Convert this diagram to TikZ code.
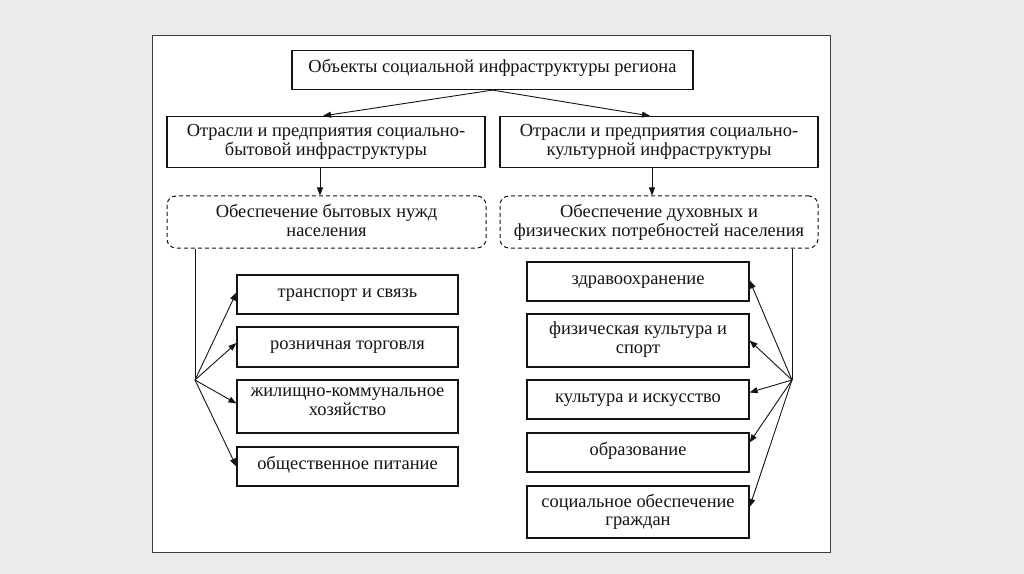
\documentclass[tikz,border=0pt]{standalone}
\usepackage{fontspec}
\setmainfont{Liberation Serif}
\usetikzlibrary{arrows.meta}
\definecolor{bggray}{RGB}{235,235,235}
\definecolor{framegray}{RGB}{60,60,60}
\definecolor{inkc}{RGB}{20,20,20}
\tikzset{
  txt/.style={anchor=north, yshift=-8.5bp, inner sep=0pt, align=center, text=inkc,
    font=\fontsize{18.5}{18.7}\selectfont,
    execute at begin node={\rule{0pt}{14bp}}},
  t/.style={label={[txt]north:{#1}}},
  box/.style={draw=inkc, line width=1.2bp, inner sep=0pt},
  dbox/.style={box, dashed, dash pattern=on 4bp off 3bp, rounded corners=9bp, line width=1bp},
  arr/.style={draw=inkc, line width=0.9bp, -{Triangle[length=8bp,width=6bp]}},
  ln/.style={draw=inkc, line width=0.9bp}
}
\begin{document}
\begin{tikzpicture}[x=1bp,y=-1bp]
\useasboundingbox[fill=bggray] (0,0) rectangle (1024,574);
\draw[framegray, fill=white, line width=1bp] (152,36) rectangle (830,552);

\node[box, minimum width=401bp, minimum height=39bp,
  t={Объекты социальной инфраструктуры региона}] (top) at (492.5,70) {};
\node[box, minimum width=318bp, minimum height=51bp,
  t={Отрасли и предприятия социально-\\бытовой инфраструктуры}] (lb) at (326,142) {};
\node[box, minimum width=318bp, minimum height=51bp,
  t={Отрасли и предприятия социально-\\культурной инфраструктуры}] (rb) at (659,142) {};
\node[dbox, minimum width=319bp, minimum height=52bp,
  t={Обеспечение бытовых нужд\\населения}] (dl) at (326.5,222) {};
\node[dbox, minimum width=318bp, minimum height=52bp,
  t={Обеспечение духовных и\\физических потребностей населения}] (dr) at (659,222) {};

% left list
\node[box, minimum width=221bp, minimum height=39bp, t={транспорт и связь}] (l1) at (347.5,294.5) {};
\node[box, minimum width=221bp, minimum height=40bp, t={розничная торговля}] (l2) at (347.5,347) {};
\node[box, minimum width=221bp, minimum height=53bp, t={жилищно-коммунальное\\хозяйство}] (l3) at (347.5,406.5) {};
\node[box, minimum width=221bp, minimum height=39bp, t={общественное питание}] (l4) at (347.5,466.5) {};

% right list
\node[box, minimum width=222bp, minimum height=39bp, t={здравоохранение}] (r1) at (638,281.5) {};
\node[box, minimum width=222bp, minimum height=53bp, t={физическая культура и\\спорт}] (r2) at (638,340.5) {};
\node[box, minimum width=222bp, minimum height=39bp, t={культура и искусство}] (r3) at (638,399.5) {};
\node[box, minimum width=222bp, minimum height=39bp, t={образование}] (r4) at (638,452.5) {};
\node[box, minimum width=222bp, minimum height=52bp, t={социальное обеспечение\\граждан}] (r5) at (638,512) {};

% connectors
\coordinate (aL) at (320,0);
\coordinate (aR) at (652,0);
\coordinate (hubL) at (195,380);
\coordinate (hubR) at (792,380);

\draw[arr] (top.south) -- ([xshift=-3bp]lb.north);
\draw[arr] (top.south) -- ([xshift=-9bp]rb.north);
\draw[arr] (lb.south -| aL) -- (dl.north -| aL);
\draw[arr] (rb.south -| aR) -- (dr.north -| aR);

\draw[ln] (dl.south -| hubL) -- (hubL);
\draw[ln] (dr.south -| hubR) -- (hubR);

\draw[arr] (hubL) -- ([yshift=2bp]l1.west);
\draw[arr] (hubL) -- ([yshift=4bp]l2.west);
\draw[arr] (hubL) -- ([yshift=3bp]l3.west);
\draw[arr] (hubL) -- (l4.west);

\draw[arr] (hubR) -- ([yshift=1bp]r1.east);
\draw[arr] (hubR) -- (r2.east);
\draw[arr] (hubR) -- ([yshift=7bp]r3.east);
\draw[arr] (hubR) -- ([yshift=10bp]r4.east);
\draw[arr] (hubR) -- ([yshift=5bp]r5.east);
\end{tikzpicture}
\end{document}
